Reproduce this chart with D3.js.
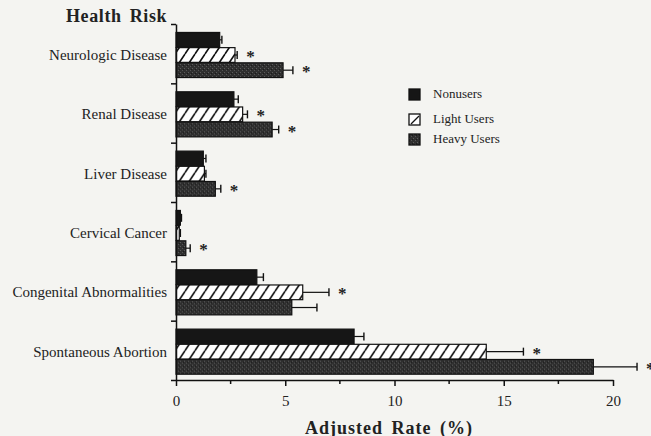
<!DOCTYPE html>
<html>
<head>
<meta charset="utf-8">
<script src="https://cdn.jsdelivr.net/npm/d3@7"></script>
<style>
  html, body { margin: 0; padding: 0; background: #f4f4f1; }
  svg { display: block; }
  text { font-family: "Liberation Serif", "Times New Roman", serif; fill: #222; }
</style>
</head>
<body>
<div id="vis-tag"></div>
<script>
// 数据
const categories = ["Neurologic Disease", "Renal Disease", "Liver Disease", "Cervical Cancer", "Congenital Abnormalities", "Spontaneous Abortion"];
const seriesNames = ["Nonusers", "Light Users", "Heavy Users"];
const nonusers = [2.0, 2.65, 1.25, 0.2, 3.7, 8.15];
const lightUsers = [2.7, 3.05, 1.3, 0.15, 5.8, 14.2];
const heavyUsers = [4.9, 4.4, 1.8, 0.45, 5.3, 19.1];
const nonusersErr = [2.1, 2.85, 1.37, 0.25, 4.0, 8.6];
const lightErr = [2.8, 3.27, 1.37, 0.2, 7.0, 15.9];
const heavyErr = [5.35, 4.7, 2.05, 0.65, 6.45, 21.1];
const lightStar = [true, true, false, false, true, true];
const heavyStar = [true, true, true, true, false, true];
const xTicks = [0, 5, 10, 15, 20];
const xMinorTicks = [2.5, 7.5, 12.5, 17.5];

const width = 651, height = 436;
const margin = { top: 24, right: 38, bottom: 56, left: 176 };

const svg = d3.select("#vis-tag").append("svg")
  .attr("width", width).attr("height", height);

// 图案
const defs = svg.append("defs");
const hatch = defs.append("pattern")
  .attr("id", "hatch").attr("patternUnits", "userSpaceOnUse")
  .attr("width", 10).attr("height", 15);
hatch.append("rect").attr("width", 10).attr("height", 15).attr("fill", "#fff");
hatch.append("path").attr("d", "M-5,15 L5,0 M5,15 L15,0")
  .attr("stroke", "#111").attr("stroke-width", 1.6);

const stip = defs.append("pattern")
  .attr("id", "stipple").attr("patternUnits", "userSpaceOnUse")
  .attr("width", 4).attr("height", 4);
stip.append("rect").attr("width", 4).attr("height", 4).attr("fill", "#2f2f2f");
stip.append("rect").attr("x", 0).attr("y", 0).attr("width", 1).attr("height", 1).attr("fill", "#5c5c5c");
stip.append("rect").attr("x", 2).attr("y", 2).attr("width", 1).attr("height", 1).attr("fill", "#555");
stip.append("rect").attr("x", 3).attr("y", 1).attr("width", 1).attr("height", 1).attr("fill", "#1a1a1a");

const fills = ["#161616", "url(#hatch)", "url(#stipple)"];

// 比例尺
const x = d3.scaleLinear().domain([0, 20]).range([margin.left, width - margin.right]);
const y0 = d3.scaleBand().domain(categories).range([margin.top, height - margin.bottom]).padding(0);
const y1 = d3.scaleBand().domain(seriesNames).range([8, 54]).padding(0.03);
const yEdge = d3.scaleLinear().domain([0, categories.length]).range([margin.top, height - margin.bottom]);

const data = categories.map((c, i) => ({
  cat: c,
  bars: [
    { s: seriesNames[0], v: nonusers[i], e: nonusersErr[i], star: false },
    { s: seriesNames[1], v: lightUsers[i], e: lightErr[i], star: lightStar[i] },
    { s: seriesNames[2], v: heavyUsers[i], e: heavyErr[i], star: heavyStar[i] }
  ]
}));

const groups = svg.selectAll("g.grp").data(data).enter().append("g")
  .attr("class", "grp")
  .attr("transform", d => `translate(0,${y0(d.cat)})`);

const bar = groups.selectAll("g.bar").data(d => d.bars).enter().append("g").attr("class", "bar");

// 误差线
bar.append("line")
  .attr("x1", d => x(d.v)).attr("x2", d => x(d.e))
  .attr("y1", d => y1(d.s) + y1.bandwidth() / 2).attr("y2", d => y1(d.s) + y1.bandwidth() / 2)
  .attr("stroke", "#111").attr("stroke-width", 1.2);
bar.append("line")
  .attr("x1", d => x(d.e)).attr("x2", d => x(d.e))
  .attr("y1", d => y1(d.s) + y1.bandwidth() / 2 - 4).attr("y2", d => y1(d.s) + y1.bandwidth() / 2 + 4)
  .attr("stroke", "#111").attr("stroke-width", 1.4);

// 柱子
bar.append("rect")
  .attr("x", x(0))
  .attr("y", d => y1(d.s))
  .attr("width", d => x(d.v) - x(0))
  .attr("height", y1.bandwidth())
  .attr("fill", (d, i) => fills[i])
  .attr("stroke", "#111").attr("stroke-width", 1.2);

// 星号
bar.filter(d => d.star).append("text")
  .attr("x", d => x(d.e) + 9)
  .attr("y", d => y1(d.s) + y1.bandwidth() / 2 + 7)
  .attr("font-size", 17).attr("font-weight", "bold")
  .text("*");

// 类别标签
svg.selectAll("text.cat").data(categories).enter().append("text")
  .attr("class", "cat")
  .attr("x", margin.left - 9)
  .attr("y", d => y0(d) + y0.bandwidth() / 2 + 3)
  .attr("text-anchor", "end").attr("dominant-baseline", "middle")
  .attr("font-size", 15)
  .text(d => d);

// Y轴
const yAxis = svg.append("g")
  .attr("transform", `translate(${margin.left},0)`)
  .call(d3.axisLeft(yEdge).tickValues(d3.range(categories.length + 1)).tickFormat("").tickSize(5).tickSizeOuter(0));
yAxis.selectAll("path, line").attr("stroke", "#111").attr("stroke-width", 1.5);

// X轴
const xAxis = svg.append("g")
  .attr("transform", `translate(0,${height - margin.bottom})`)
  .call(d3.axisBottom(x).tickValues(xTicks).tickSize(6).tickSizeOuter(0).tickPadding(9));
xAxis.selectAll("path, line").attr("stroke", "#111").attr("stroke-width", 1.5);
xAxis.selectAll("text").attr("font-size", 15).attr("fill", "#333")
  .style("font-family", "'Liberation Serif', serif");
xAxis.selectAll(".minor").data(xMinorTicks).enter().append("line")
  .attr("class", "minor")
  .attr("x1", d => x(d)).attr("x2", d => x(d))
  .attr("y1", 0).attr("y2", 4)
  .attr("stroke", "#111").attr("stroke-width", 1.5);

// 标题
svg.append("text")
  .attr("x", 66).attr("y", 22)
  .attr("font-size", 18).attr("font-weight", "bold")
  .attr("letter-spacing", 0.6)
  .attr("word-spacing", 3)
  .text("Health Risk");

svg.append("text")
  .attr("x", 389).attr("y", 434)
  .attr("text-anchor", "middle")
  .attr("font-size", 18).attr("font-weight", "bold")
  .attr("letter-spacing", 1)
  .attr("word-spacing", 3)
  .text("Adjusted Rate (%)");

// 图例
const legendY = [89, 114, 134];
const legend = svg.selectAll("g.leg").data(seriesNames).enter().append("g")
  .attr("class", "leg")
  .attr("transform", (d, i) => `translate(409,${legendY[i]})`);
legend.append("rect")
  .attr("width", 11).attr("height", 11)
  .attr("fill", (d, i) => i === 0 ? "#161616" : i === 1 ? "#fff" : "url(#stipple)")
  .attr("stroke", "#111").attr("stroke-width", 1.3);
legend.filter((d, i) => i === 1).append("line")
  .attr("x1", 2).attr("y1", 10).attr("x2", 10).attr("y2", 2)
  .attr("stroke", "#111").attr("stroke-width", 1.3);
legend.append("text")
  .attr("x", 24).attr("y", 6)
  .attr("dominant-baseline", "middle")
  .attr("font-size", 13)
  .text(d => d);
</script>
</body>
</html>
